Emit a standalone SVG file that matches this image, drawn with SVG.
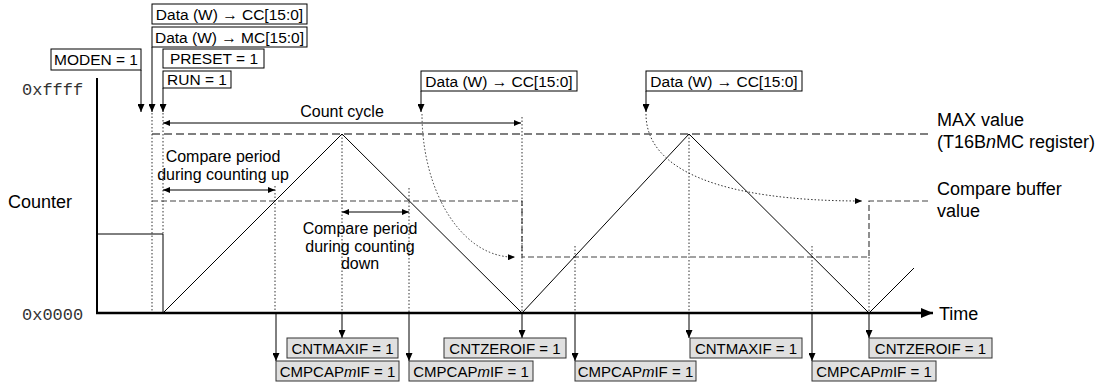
<svg xmlns="http://www.w3.org/2000/svg" width="1109" height="384" viewBox="0 0 1109 384">
<defs>
<style>
.t{font-family:"Liberation Sans",Arial,Helvetica,sans-serif;fill:#000}
.bx{font-size:15.5px}
.lb{font-size:16px}
.sd{font-size:18px}
.fl{font-size:15px}
.mono{font-family:"Liberation Mono","Courier New",monospace;font-size:17px;fill:#333}
.wb{fill:#fff;stroke:#000;stroke-width:1}
.gb{fill:#e0e0e0;stroke:#333;stroke-width:1}
.dot{fill:none;stroke:#333;stroke-width:1;stroke-dasharray:1.5,2}
.dmax{fill:none;stroke:#555;stroke-width:1.3;stroke-dasharray:8,4}
.dcmp{fill:none;stroke:#444;stroke-width:1.2;stroke-dasharray:6,3}
.ln{fill:none;stroke:#000;stroke-width:1}
.dim{fill:none;stroke:#000;stroke-width:1}
</style>
<marker id="a" viewBox="0 0 10 10" refX="10" refY="5" markerWidth="8" markerHeight="7" orient="auto" markerUnits="userSpaceOnUse" preserveAspectRatio="none"><path d="M0,0 L10,5 L0,10 z" fill="#000"/></marker>
<marker id="s" viewBox="0 0 10 10" refX="10" refY="5" markerWidth="7" markerHeight="6" orient="auto-start-reverse" markerUnits="userSpaceOnUse" preserveAspectRatio="none"><path d="M0,0 L10,5 L0,10 z" fill="#000"/></marker>
<marker id="big" viewBox="0 0 10 10" refX="10" refY="5" markerWidth="12" markerHeight="10" orient="auto" markerUnits="userSpaceOnUse" preserveAspectRatio="none"><path d="M0,0 L10,5 L0,10 z" fill="#000"/></marker>
</defs>
<rect x="0" y="0" width="1109" height="384" fill="#fff"/>

<g id="guides">
<line class="dmax" x1="152" y1="134" x2="928" y2="134"/>
<path class="dcmp" d="M152,201 H522 V257 H869 V201 H928"/>
<line class="dot" x1="152" y1="113" x2="152" y2="313"/>
<line class="dot" x1="163" y1="113" x2="163" y2="234"/>
<line class="dot" x1="275" y1="186" x2="275" y2="313"/>
<line class="dot" x1="342" y1="134" x2="342" y2="313"/>
<line class="dot" x1="409" y1="188" x2="409" y2="313"/>
<line class="dot" x1="522" y1="117" x2="522" y2="313"/>
<line class="dot" x1="575" y1="246" x2="575" y2="313"/>
<line class="dot" x1="689" y1="134" x2="689" y2="313"/>
<line class="dot" x1="812" y1="246" x2="812" y2="313"/>
<line class="dot" x1="869" y1="257" x2="869" y2="313"/>
</g>

<g id="axes">
<line x1="97" y1="78" x2="97" y2="314" stroke="#000" stroke-width="2"/>
<line x1="96" y1="313" x2="933" y2="313" stroke="#000" stroke-width="2.5" marker-end="url(#big)"/>
<text class="mono" x="22" y="95">0xffff</text>
<text class="mono" x="22" y="320">0x0000</text>
<text class="t sd" x="8" y="208">Counter</text>
<text class="t sd" x="939" y="320">Time</text>
</g>

<g id="counter">
<polyline class="ln" points="97,234 163,234 163,313" stroke="#222"/>
<polyline class="ln" points="163,313 342,134 522,313 689,134 869,313 914,268"/>
</g>

<g id="labels">
<text class="t sd" x="937" y="126">MAX value</text>
<text class="t sd" x="937" y="148">(T16B<tspan font-style="italic">n</tspan>MC register)</text>
<text class="t sd" x="937" y="195">Compare buffer</text>
<text class="t sd" x="937" y="217">value</text>
<text class="t lb" x="342" y="117" text-anchor="middle">Count cycle</text>
<text class="t lb" x="223" y="162" text-anchor="middle">Compare period</text>
<text class="t lb" x="223" y="180" text-anchor="middle">during counting up</text>
<text class="t lb" x="360" y="234" text-anchor="middle">Compare period</text>
<text class="t lb" x="360" y="252" text-anchor="middle">during counting</text>
<text class="t lb" x="360" y="269" text-anchor="middle">down</text>
</g>

<g id="connectors">
<line class="dim" x1="163" y1="123" x2="521" y2="123" marker-start="url(#s)" marker-end="url(#s)"/>
<line class="dim" x1="163" y1="190" x2="275" y2="190" marker-start="url(#s)" marker-end="url(#s)"/>
<line class="dim" x1="342" y1="212" x2="409" y2="212" marker-start="url(#s)" marker-end="url(#s)"/>
<path class="dot" d="M422,114 A91,143 0 0 0 515,257" marker-end="url(#s)" stroke="#222"/>
<path class="dot" d="M646,114 C646,170 720,201 862,201" marker-end="url(#s)" stroke="#222"/>
<line class="ln" x1="141" y1="70" x2="141" y2="112" marker-end="url(#a)"/>
<line class="ln" x1="152" y1="47" x2="152" y2="112" marker-end="url(#a)"/>
<line class="ln" x1="163" y1="88" x2="163" y2="112" marker-end="url(#a)"/>
<line class="ln" x1="421" y1="91" x2="421" y2="112" marker-end="url(#a)"/>
<line class="ln" x1="646" y1="91" x2="646" y2="112" marker-end="url(#a)"/>
<line class="ln" x1="276" y1="314" x2="276" y2="361" marker-end="url(#a)"/>
<line class="ln" x1="342" y1="314" x2="342" y2="338" marker-end="url(#a)"/>
<line class="ln" x1="409" y1="314" x2="409" y2="361" marker-end="url(#a)"/>
<line class="ln" x1="522" y1="314" x2="522" y2="338" marker-end="url(#a)"/>
<line class="ln" x1="575" y1="314" x2="575" y2="361" marker-end="url(#a)"/>
<line class="ln" x1="689" y1="314" x2="689" y2="338" marker-end="url(#a)"/>
<line class="ln" x1="812" y1="314" x2="812" y2="361" marker-end="url(#a)"/>
<line class="ln" x1="869" y1="314" x2="869" y2="338" marker-end="url(#a)"/>
</g>

<g id="n-data-cc-1"><rect class="wb" x="152" y="4" width="155" height="20"/><text class="t bx" x="229.5" y="19.5" text-anchor="middle">Data (W) → CC[15:0]</text></g>
<g id="n-data-mc"><rect class="wb" x="152" y="27" width="155" height="20"/><text class="t bx" x="229.5" y="42.5" text-anchor="middle">Data (W) → MC[15:0]</text></g>
<g id="n-moden"><rect class="wb" x="51" y="49" width="90" height="21"/><text class="t bx" x="96" y="65" text-anchor="middle">MODEN = 1</text></g>
<g id="n-preset"><rect class="wb" x="163" y="49" width="101" height="19"/><text class="t bx" x="214" y="64" text-anchor="middle">PRESET = 1</text></g>
<g id="n-run"><rect class="wb" x="163" y="71" width="68" height="17"/><text class="t bx" x="197" y="85" text-anchor="middle">RUN = 1</text></g>
<g id="n-data-cc-2"><rect class="wb" x="421" y="71" width="156" height="20"/><text class="t bx" x="499" y="86.5" text-anchor="middle">Data (W) → CC[15:0]</text></g>
<g id="n-data-cc-3"><rect class="wb" x="646" y="71" width="156" height="20"/><text class="t bx" x="724" y="86.5" text-anchor="middle">Data (W) → CC[15:0]</text></g>

<g id="n-cmpcap-1"><rect class="gb" x="276" y="361" width="123" height="20"/><text class="t fl" x="337.5" y="376.5" text-anchor="middle">CMPCAP<tspan font-style="italic">m</tspan>IF = 1</text></g>
<g id="n-cntmaxif-1"><rect class="gb" x="287" y="338" width="111" height="20"/><text class="t fl" x="342.5" y="353.5" text-anchor="middle">CNTMAXIF = 1</text></g>
<g id="n-cmpcap-2"><rect class="gb" x="409" y="361" width="124" height="20"/><text class="t fl" x="471" y="376.5" text-anchor="middle">CMPCAP<tspan font-style="italic">m</tspan>IF = 1</text></g>
<g id="n-cntzeroif-1"><rect class="gb" x="444" y="338" width="122" height="20"/><text class="t fl" x="505" y="353.5" text-anchor="middle">CNTZEROIF = 1</text></g>
<g id="n-cmpcap-3"><rect class="gb" x="575" y="361" width="121" height="20"/><text class="t fl" x="635.5" y="376.5" text-anchor="middle">CMPCAP<tspan font-style="italic">m</tspan>IF = 1</text></g>
<g id="n-cntmaxif-2"><rect class="gb" x="690" y="338" width="112" height="20"/><text class="t fl" x="746" y="353.5" text-anchor="middle">CNTMAXIF = 1</text></g>
<g id="n-cmpcap-4"><rect class="gb" x="812" y="361" width="124" height="20"/><text class="t fl" x="874" y="376.5" text-anchor="middle">CMPCAP<tspan font-style="italic">m</tspan>IF = 1</text></g>
<g id="n-cntzeroif-2"><rect class="gb" x="869" y="338" width="123" height="20"/><text class="t fl" x="930.5" y="353.5" text-anchor="middle">CNTZEROIF = 1</text></g>
</svg>
